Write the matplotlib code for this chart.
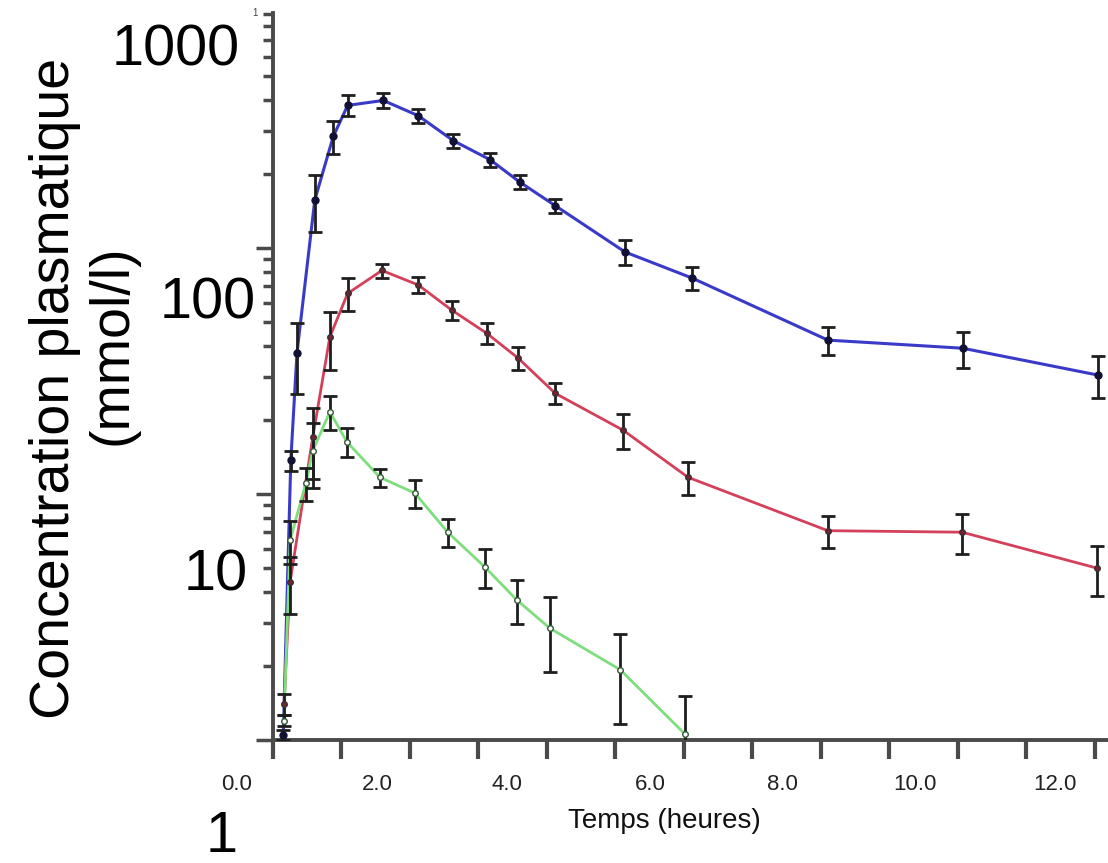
import matplotlib
matplotlib.use("Agg")
import matplotlib.pyplot as plt
from matplotlib import font_manager
from matplotlib.ticker import LogLocator, NullFormatter, FixedLocator

plt.rcParams["font.family"] = ["Liberation Sans", "DejaVu Sans"]

# ---------------------------------------------------------------------------
# Data (x in tick units, y in mmol/l)
# ---------------------------------------------------------------------------
blue_t = [0.15, 0.26, 0.35, 0.61, 0.88, 1.09, 1.61, 2.12, 2.63, 3.17, 3.60,
          4.12, 5.14, 6.12, 8.10, 10.07, 12.04]
blue_c = [1.05, 13.7, 37.5, 157, 285, 381, 399, 346, 274, 229, 186,
          149, 96.5, 75.6, 42.3, 39.2, 30.5]
blue_e = [0.05, 1.3, 12, 41, 43, 37, 27, 23, 18.4, 15.4, 12.5,
          10, 11.3, 8, 5.4, 6.6, 5.8]

red_t = [0.16, 0.25, 0.58, 0.83, 1.09, 1.59, 2.12, 2.61, 3.12, 3.58, 4.12,
         5.11, 6.06, 8.10, 10.06, 12.03]
red_c = [1.4, 4.4, 17, 43.6, 65.5, 81.2, 70.9, 56.0, 45.1, 35.7, 25.7,
         18.2, 11.7, 7.1, 7.0, 5.0]
red_e = [0.14, 1.16, 5.5, 11.5, 9.9, 5.3, 5.4, 4.8, 4.4, 3.8, 2.5,
         2.9, 1.8, 1.07, 1.3, 1.14]

green_t = [0.16, 0.25, 0.48, 0.58, 0.83, 1.08, 1.56, 2.07, 2.55, 3.09, 3.56,
           4.04, 5.07, 6.01]
green_c = [1.2, 6.5, 11.1, 15, 21.6, 16.3, 11.7, 10.1, 7.0, 5.06, 3.71,
           2.85, 1.93, 1.06]
green_e = [0.06, 1.3, 1.7, 4.4, 3.4, 2.2, 1.0, 1.3, 0.9, 0.9, 0.76,
           0.96, 0.77, 0.45]

x_labels = ["0.0", "2.0", "4.0", "6.0", "8.0", "10.0", "12.0"]
y_labels = ["1000", "100", "10", "1"]

# label placement (pixels, as laid out in the source picture)
x_label_px = [237, 377, 507, 650, 782, 915, 1055]
y_label_px = [(176, 66), (208, 318), (216, 590), (222, 852)]

W, H = 1108, 863
fig = plt.figure(figsize=(W / 100, H / 100), dpi=100)
ax = fig.add_axes([273 / W, 1 - 740 / H, 1 - 273 / W, (740 - 13) / H])

AXC = "#4a4a4a"

ax.set_yscale("log")
ax.set_xlim(0, 12.19)
ax.set_ylim(1, 905)

for s in ("top", "right"):
    ax.spines[s].set_visible(False)
for s in ("left", "bottom"):
    ax.spines[s].set_color(AXC)
    ax.spines[s].set_linewidth(2.8)

ax.xaxis.set_major_locator(FixedLocator(range(0, 13)))
ax.xaxis.set_major_formatter(NullFormatter())
ax.tick_params(axis="x", direction="out", length=14, width=3, color=AXC)
ax.yaxis.set_major_locator(LogLocator(base=10))
ax.yaxis.set_minor_locator(LogLocator(base=10, subs=range(2, 10)))
ax.yaxis.set_major_formatter(NullFormatter())
ax.yaxis.set_minor_formatter(NullFormatter())
ax.tick_params(axis="y", which="major", direction="out", length=12, width=2.5,
               color=AXC)
ax.tick_params(axis="y", which="minor", direction="out", length=7, width=2.5,
               color=AXC)

# curves
ax.plot(blue_t, blue_c, color="#3a3ac8", lw=2.2, zorder=3, clip_on=False)
ax.plot(red_t, red_c, color="#d4405a", lw=2.0, zorder=3, clip_on=False)
ax.plot(green_t, green_c, color="#7ede7e", lw=2.0, zorder=3, clip_on=False)

# error bars + markers
eb = dict(fmt="none", ecolor="#1e1e1e", elinewidth=2.0, capsize=5,
          capthick=2.0, zorder=4)
ax.errorbar(blue_t, blue_c, yerr=blue_e, **eb)
ax.errorbar(red_t, red_c, yerr=red_e, **eb)
ax.errorbar(green_t, green_c, yerr=green_e, **eb)
ax.plot(blue_t, blue_c, "o", ms=5, color="#111133", zorder=5)
ax.plot(red_t, red_c, "o", ms=4, mfc="#7a2030", mec="#333333", mew=1,
        zorder=5)
ax.plot(green_t, green_c, "o", ms=4, mfc="white", mec="#335533", mew=1,
        zorder=5)

# tick labels drawn where the source picture puts them
for lab, px in zip(x_labels, x_label_px):
    fig.text(px / W, 1 - 790 / H, lab, ha="center", va="baseline",
             fontsize=16, color="#222222")
for lab, (px, py) in zip(y_labels, y_label_px):
    fig.text(px / W, 1 - py / H, lab, ha="center", va="baseline",
             fontsize=41.5, color="black")
fig.text(255 / W, 1 - 16 / H, "1", ha="center", va="baseline", fontsize=7,
         color="#444444")

fig.text(664 / W, 1 - 828 / H, "Temps (heures)", ha="center", va="baseline",
         fontsize=20, color="#111111")
fig.text(55 / W, 1 - 388 / H, "Concentration plasmatique", rotation=90,
         ha="center", va="center", fontsize=40, color="black")
fig.text(113 / W, 1 - 345 / H, "(mmol/l)", rotation=90,
         ha="center", va="center", fontsize=40, color="black")

fig.savefig("out.png", dpi=100, facecolor="white")
